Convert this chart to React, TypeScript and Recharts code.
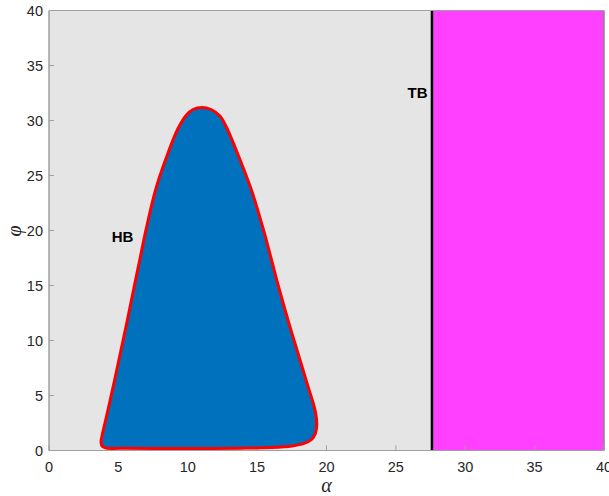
import React from 'react';
import {
  ScatterChart,
  Scatter,
  XAxis,
  YAxis,
  CartesianGrid,
  ReferenceArea,
  ReferenceLine,
  ReferenceDot,
  Label,
} from 'recharts';

// Axis ticks
const alphaTicks = [0, 5, 10, 15, 20, 25, 30, 35, 40];
const phiTicks = [0, 5, 10, 15, 20, 25, 30, 35, 40];

// Hopf-bifurcation (HB) boundary, traced around the closed curve starting at the lower-left corner
const hbAlpha = [
  4.11, 5.48, 8.0, 10.88, 13.77, 15.93, 17.51, 18.38, 18.92, 19.21, 19.3, 19.23,
  19.06, 18.7, 18.09, 17.37, 16.65, 16.0, 15.46, 14.59, 13.69, 12.83, 12.32,
  11.68, 11.03, 10.38, 9.91, 9.3, 8.47, 7.68, 6.99, 6.54, 6.09, 5.65, 5.19, 4.73,
  4.25, 4.0, 3.82, 3.75, 3.86,
];
const hbPhi = [
  0.23, 0.2, 0.18, 0.18, 0.21, 0.27, 0.41, 0.64, 1.0, 1.59, 2.41, 3.32, 4.23,
  5.68, 8.23, 11.23, 14.41, 17.5, 20.05, 23.68, 26.68, 29.27, 30.41, 31.0, 31.18,
  31.0, 30.5, 29.27, 26.68, 23.68, 20.05, 17.32, 14.59, 11.86, 9.14, 6.41, 3.68,
  2.32, 1.32, 0.73, 0.36,
];

// Transcritical boundary (TB) and the region beyond it
const tbAlpha = 27.6;
const tbRegion = { alphaFrom: 27.6, alphaTo: 40, phiFrom: 0, phiTo: 40 };

// Region labels
const hbLabel = { alpha: 5.3, phi: 19.4, text: 'HB' };
const tbLabel = { alpha: 26.56, phi: 32.55, text: 'TB' };

const hbData = hbAlpha.map((a, i) => ({ alpha: a, phi: hbPhi[i] }));

const AXIS_COLOR = '#a0a0a0';
const TEXT_COLOR = '#262626';
const FONT = '"Liberation Sans", Arial, Helvetica, sans-serif';
const SERIF = '"Liberation Serif", "DejaVu Serif", serif';

// Closed centripetal Catmull-Rom spline through the scaled boundary points
function closedSmoothPath(pts: { x: number; y: number }[]) {
  const n = pts.length;
  if (n < 3) return '';
  const dist = (a: { x: number; y: number }, b: { x: number; y: number }) =>
    Math.hypot(b.x - a.x, b.y - a.y);
  let d = `M${pts[0].x},${pts[0].y}`;
  for (let i = 0; i < n; i++) {
    const p0 = pts[(i - 1 + n) % n];
    const p1 = pts[i];
    const p2 = pts[(i + 1) % n];
    const p3 = pts[(i + 2) % n];
    const l01 = dist(p0, p1);
    const l12 = dist(p1, p2);
    const l23 = dist(p2, p3);
    const l01a = Math.sqrt(l01);
    const l12a = Math.sqrt(l12);
    const l23a = Math.sqrt(l23);
    let c1x = p1.x;
    let c1y = p1.y;
    let c2x = p2.x;
    let c2y = p2.y;
    if (l01a > 1e-9) {
      const A = 2 * l01 + 3 * l01a * l12a + l12;
      const N = 3 * l01a * (l01a + l12a);
      c1x = (p1.x * A - p0.x * l12 + p2.x * l01) / N;
      c1y = (p1.y * A - p0.y * l12 + p2.y * l01) / N;
    }
    if (l23a > 1e-9) {
      const B = 2 * l23 + 3 * l23a * l12a + l12;
      const M = 3 * l23a * (l23a + l12a);
      c2x = (p2.x * B + p1.x * l23 - p3.x * l12) / M;
      c2y = (p2.y * B + p1.y * l23 - p3.y * l12) / M;
    }
    d += ` C${c1x},${c1y} ${c2x},${c2y} ${p2.x},${p2.y}`;
  }
  return d + ' Z';
}

const HbRegion = (props: any) => (
  <path
    d={closedSmoothPath(props.points || [])}
    fill="#0072bd"
    stroke="#ff0000"
    strokeWidth={3}
    strokeLinejoin="round"
  />
);

const NoMarker = () => <g />;
const NoTickLabel = () => <g />;

const PhiLabel = (props: any) => {
  const vb = props.viewBox || { x: 0, y: 0, width: 0, height: 0 };
  const x = vb.x + 13.5;
  const y = vb.y + vb.height / 2 + 0.5;
  return (
    <text
      x={x}
      y={y}
      transform={`rotate(-90 ${x} ${y})`}
      textAnchor="middle"
      dominantBaseline="central"
      fontFamily={SERIF}
      fontStyle="italic"
      fontSize={20}
      fill={TEXT_COLOR}
    >
      φ
    </text>
  );
};

export default function App() {
  return (
    <div style={{ position: 'absolute', left: 0, top: 0 }}>
      <ScatterChart
        width={609}
        height={496}
        margin={{ top: 9.5, right: 4, bottom: 0, left: 0 }}
      >
        <CartesianGrid
          fill="#e5e5e5"
          horizontal={false}
          vertical={false}
          stroke="none"
          xAxisId="b"
          yAxisId="l"
        />
        <ReferenceArea
          xAxisId="b"
          yAxisId="l"
          x1={tbRegion.alphaFrom}
          x2={tbRegion.alphaTo}
          y1={tbRegion.phiFrom}
          y2={tbRegion.phiTo}
          fill="#ff40ff"
          fillOpacity={1}
          stroke="#505050"
          strokeWidth={1}
        />
        <ReferenceArea
          xAxisId="b"
          yAxisId="l"
          x1={0}
          x2={tbRegion.alphaFrom}
          y1={0}
          y2={40}
          fill="none"
          stroke={AXIS_COLOR}
          strokeWidth={1}
        />
        <XAxis
          xAxisId="b"
          type="number"
          dataKey="alpha"
          domain={[0, 40]}
          ticks={alphaTicks}
          interval={0}
          height={45.5}
          tickSize={-5}
          tickMargin={16}
          stroke={AXIS_COLOR}
          tick={{ fill: TEXT_COLOR, fontSize: 14.5, fontFamily: FONT }}
          label={{
            value: 'α',
            position: 'insideBottom',
            offset: 4,
            style: {
              fontFamily: SERIF,
              fontStyle: 'italic',
              fontSize: 20,
              fill: TEXT_COLOR,
            },
          }}
        />
        <XAxis
          xAxisId="t"
          orientation="top"
          type="number"
          domain={[0, 40]}
          ticks={alphaTicks}
          interval={0}
          height={1}
          tickSize={-5}
          tickMargin={0}
          tick={<NoTickLabel />}
          stroke={AXIS_COLOR}
        />
        <YAxis
          yAxisId="l"
          type="number"
          dataKey="phi"
          domain={[0, 40]}
          ticks={phiTicks}
          interval={0}
          width={49}
          tickSize={-5}
          tickMargin={11}
          stroke={AXIS_COLOR}
          tick={{ fill: TEXT_COLOR, fontSize: 14.5, fontFamily: FONT }}
        >
          <Label content={<PhiLabel />} />
        </YAxis>
        <YAxis
          yAxisId="r"
          orientation="right"
          type="number"
          domain={[0, 40]}
          ticks={phiTicks}
          interval={0}
          width={1}
          tickSize={-5}
          tickMargin={0}
          tick={<NoTickLabel />}
          stroke={AXIS_COLOR}
        />
        <ReferenceLine
          xAxisId="b"
          yAxisId="l"
          x={tbAlpha}
          stroke="#000000"
          strokeWidth={2.5}
        />
        <Scatter
          xAxisId="b"
          yAxisId="l"
          data={hbData}
          dataKey="phi"
          isAnimationActive={false}
          line={HbRegion}
          lineType="joint"
          shape={<NoMarker />}
        />
        <ReferenceDot
          xAxisId="b"
          yAxisId="l"
          x={hbLabel.alpha}
          y={hbLabel.phi}
          r={0}
          fill="none"
          stroke="none"
          label={{
            value: hbLabel.text,
            position: 'center',
            style: { fontFamily: FONT, fontWeight: 'bold', fontSize: 15, fill: '#000' },
          }}
        />
        <ReferenceDot
          xAxisId="b"
          yAxisId="l"
          x={tbLabel.alpha}
          y={tbLabel.phi}
          r={0}
          fill="none"
          stroke="none"
          label={{
            value: tbLabel.text,
            position: 'center',
            style: { fontFamily: FONT, fontWeight: 'bold', fontSize: 15, fill: '#000' },
          }}
        />
      </ScatterChart>
    </div>
  );
}
